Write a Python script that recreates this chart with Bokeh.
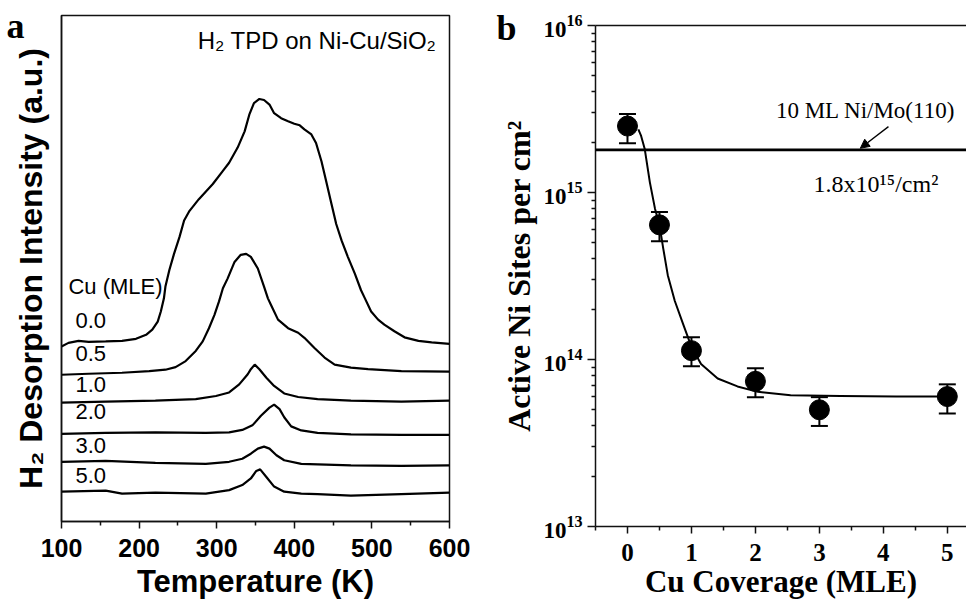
from bokeh.plotting import figure
from bokeh.layouts import row
from bokeh.models import (FixedTicker, Label, Span, Whisker, ColumnDataSource, TeeHead,
                          Arrow, NormalHead, LinearAxis, LogAxis, CustomJSTickFormatter)
from bokeh.embed import file_html
from bokeh.resources import INLINE

# ---------------- Panel a data: H2 TPD traces (offset, arbitrary units) ----------------
temp_ticks = [100, 200, 300, 400, 500, 600]
temp_minor = [150, 250, 350, 450, 550]
cu_labels = ["0.0", "0.5", "1.0", "2.0", "3.0", "5.0"]

T_00 = [100, 109, 122, 135, 157, 178, 196, 209, 217, 224, 228, 232, 234, 239, 245, 252, 258, 265,
        277, 295, 308, 316, 327, 336, 342, 348, 355, 361, 368, 374, 383, 392, 400, 407, 413, 422,
        428, 435, 441, 448, 454, 461, 469, 478, 486, 491, 499, 508, 516, 529, 542, 560, 577, 600]
I_00 = [34.6, 35.3, 35.7, 35.5, 35.6, 35.7, 36.1, 36.9, 37.9, 39.5, 41.5, 44.1, 46.5, 49.7, 52.9,
        56.2, 59.5, 61.4, 63.7, 66.7, 69.3, 70.9, 73.9, 77.1, 80.4, 82.7, 83.5, 83.3, 82.4, 80.7,
        79.7, 79.1, 78.6, 78.3, 77.5, 76.5, 74.8, 71.2, 67.3, 62.7, 58.8, 55.5, 52.3, 49.0, 45.7,
        44.1, 41.5, 39.9, 38.9, 37.6, 36.4, 35.7, 35.4, 35.1]

T_05 = [100, 135, 178, 213, 234, 247, 260, 273, 282, 290, 297, 303, 308, 314, 323, 331, 338, 344,
        353, 361, 366, 370, 379, 392, 405, 413, 426, 439, 452, 473, 495, 538, 600]
I_05 = [29.0, 29.2, 29.4, 29.7, 30.0, 30.5, 31.7, 33.7, 35.6, 38.2, 40.8, 43.5, 46.1, 48.0, 51.3,
        52.7, 52.9, 52.3, 50.0, 46.4, 44.1, 42.8, 39.9, 38.2, 37.3, 36.3, 34.3, 32.4, 31.0, 30.4,
        30.1, 29.7, 29.6]

T_10 = [100, 157, 221, 273, 299, 316, 329, 340, 344, 349, 355, 364, 374, 387, 405, 430, 473, 538, 600]
I_10 = [23.5, 23.7, 23.9, 24.2, 24.8, 25.5, 27.1, 29.1, 30.1, 31.0, 30.1, 28.4, 26.8, 25.3, 24.6,
        24.2, 23.9, 23.7, 23.9]

T_20 = [100, 157, 221, 286, 316, 333, 346, 357, 368, 374, 381, 387, 396, 409, 430, 473, 538, 600]
I_20 = [17.3, 17.5, 17.6, 17.5, 17.6, 18.1, 19.0, 20.9, 22.5, 23.1, 22.2, 20.6, 18.8, 18.0, 17.5,
        17.2, 17.1, 17.1]

T_30 = [100, 157, 221, 286, 316, 333, 344, 353, 361, 368, 377, 387, 409, 473, 538, 600]
I_30 = [11.8, 12.0, 11.6, 11.4, 11.8, 12.4, 13.4, 14.4, 14.8, 14.4, 13.1, 12.1, 11.4, 11.1, 11.0, 11.1]

T_50 = [100, 157, 178, 221, 286, 316, 333, 344, 351, 356, 364, 374, 387, 409, 430, 473, 538, 600]
I_50 = [5.9, 6.1, 5.5, 5.7, 5.5, 6.2, 7.2, 8.5, 10.0, 10.3, 8.8, 6.9, 5.9, 5.5, 5.4, 5.1, 5.4, 5.7]

# ---------------- Panel b data: active Ni sites vs Cu coverage ----------------
cu_cov = [0, 0.5, 1, 2, 3, 5]
sites = [2.5e15, 6.4e14, 1.13e14, 7.4e13, 5.0e13, 6.0e13]
sites_hi = [2.95e15, 7.65e14, 1.36e14, 8.85e13, 5.95e13, 7.1e13]
sites_lo = [1.97e15, 5.1e14, 9.1e13, 5.95e13, 4.0e13, 4.75e13]
fit_x = [0.17, 0.21, 0.27, 0.35, 0.43, 0.50, 0.56, 0.63, 0.74, 0.87, 1.00, 1.15, 1.41, 1.72,
         2.04, 2.55, 3.33, 4.20, 5.00]
fit_y = [2.39e15, 2.2e15, 1.82e15, 1.15e15, 8.0e14, 6.4e14, 4.6e14, 3.2e14, 2.24e14, 1.63e14,
         1.19e14, 9.4e13, 7.7e13, 6.9e13, 6.4e13, 6.1e13, 6.05e13, 6.0e13, 6.0e13]
ni_mo_ref = 1.8e15
cov_ticks = [0, 1, 2, 3, 4, 5]
cov_minor = [-0.5, 0.5, 1.5, 2.5, 3.5, 4.5]
site_ticks = [1e13, 1e14, 1e15, 1e16]
site_minor = [2e13, 3e13, 4e13, 5e13, 6e13, 7e13, 8e13, 9e13,
              2e14, 3e14, 4e14, 5e14, 6e14, 7e14, 8e14, 9e14,
              2e15, 3e15, 4e15, 5e15, 6e15, 7e15, 8e15, 9e15]

SANS = "Liberation Sans"
SERIF = "Liberation Serif"
AX = "#111111"


def no_frame_align(p):
    if "frame_align" in p.properties():
        p.frame_align = False


def style_axis(a):
    a.axis_line_color = AX
    a.axis_line_width = 1.5
    a.major_tick_line_color = AX
    a.major_tick_line_width = 1.5
    a.minor_tick_line_color = AX
    a.minor_tick_line_width = 1.5
    a.axis_label_text_color = "black"
    a.major_label_text_color = "black"


def panel_letter_axis(axis_cls, letter, at, standoff):
    # an outer, line-less axis whose single tick label is the panel letter
    return axis_cls(ticker=FixedTicker(ticks=[at]),
                    formatter=CustomJSTickFormatter(code="return '%s'" % letter),
                    axis_line_color=None, major_tick_out=0, major_tick_in=0,
                    minor_tick_out=0, minor_tick_in=0,
                    major_label_text_font=SERIF, major_label_text_font_style="bold",
                    major_label_text_font_size="36px", major_label_text_color="black",
                    major_label_standoff=standoff)


# ======================= Panel a =======================
p1 = figure(width=480, height=601, x_range=(100, 600), y_range=(0, 100),
            output_backend="svg", toolbar_location=None,
            min_border_left=61, min_border_right=31, min_border_top=15, min_border_bottom=76)
no_frame_align(p1)
p1.xgrid.visible = False
p1.ygrid.visible = False
p1.outline_line_color = AX
p1.outline_line_width = 1.5
p1.outline_line_alpha = 1.0
p1.background_fill_color = "white"
p1.border_fill_color = "white"

xa = p1.xaxis[0]
style_axis(xa)
xa.ticker = FixedTicker(ticks=temp_ticks, minor_ticks=temp_minor)
xa.axis_label = "Temperature (K)"
xa.axis_label_text_font = SANS
xa.axis_label_text_font_style = "bold"
xa.axis_label_text_font_size = "31px"
xa.axis_label_standoff = 4
xa.major_label_text_font = SANS
xa.major_label_text_font_style = "bold"
xa.major_label_text_font_size = "25px"
xa.major_label_standoff = 10
xa.major_tick_out = 7
xa.major_tick_in = 0
xa.minor_tick_out = 4
xa.minor_tick_in = 0

ya = p1.yaxis[0]
style_axis(ya)
ya.ticker = FixedTicker(ticks=[])
ya.major_tick_out = 0
ya.major_tick_in = 0
ya.minor_tick_out = 0
ya.minor_tick_in = 0
ya.axis_label = "H\u2082 Desorption Intensity (a.u.)"
ya.axis_label_text_font = SANS
ya.axis_label_text_font_style = "bold"
ya.axis_label_text_font_size = "32px"
ya.axis_label_standoff = 13

p1.add_layout(panel_letter_axis(LinearAxis, "a", 98.0, -15), "left")

for T, I in [(T_00, I_00), (T_05, I_05), (T_10, I_10), (T_20, I_20), (T_30, I_30), (T_50, I_50)]:
    p1.line(T, I, line_color="black", line_width=2.2)

p1.add_layout(Label(x=583, y=95.0, text="H\u2082 TPD on Ni-Cu/SiO\u2082", text_font=SANS,
                    text_font_size="24px", text_align="right", text_baseline="middle",
                    text_color="black"))
p1.add_layout(Label(x=109, y=46.5, text="Cu (MLE)", text_font=SANS, text_font_size="22px",
                    text_align="left", text_baseline="middle", text_color="black"))
label_pos = [39.7, 33.2, 27.0, 21.8, 15.0, 9.0]
for lab, ly in zip(cu_labels, label_pos):
    p1.add_layout(Label(x=118, y=ly, text=lab, text_font=SANS, text_font_size="22px",
                        text_align="left", text_baseline="middle", text_color="black"))

# ======================= Panel b =======================
p2 = figure(width=486, height=601, x_range=(-0.5, 5.3), y_range=(1e13, 1e16),
            y_axis_type="log", output_backend="svg", toolbar_location=None,
            min_border_left=115, min_border_right=0, min_border_top=25, min_border_bottom=70)
no_frame_align(p2)
p2.xgrid.visible = False
p2.ygrid.visible = False
p2.outline_line_color = None
p2.background_fill_color = "white"
p2.border_fill_color = "white"

bx = p2.xaxis[0]
style_axis(bx)
bx.ticker = FixedTicker(ticks=cov_ticks, minor_ticks=cov_minor)
bx.axis_label = "Cu Coverage (MLE)"
bx.axis_label_text_font = SERIF
bx.axis_label_text_font_style = "bold"
bx.axis_label_text_font_size = "31px"
bx.axis_label_standoff = 0
bx.major_label_text_font = SERIF
bx.major_label_text_font_style = "bold"
bx.major_label_text_font_size = "25px"
bx.major_label_standoff = 10
bx.major_tick_out = 7
bx.major_tick_in = 0
bx.minor_tick_out = 4
bx.minor_tick_in = 0

by = p2.yaxis[0]
style_axis(by)
by.ticker = FixedTicker(ticks=site_ticks, minor_ticks=site_minor)
by.axis_label = "Active Ni Sites per cm\u00b2"
by.axis_label_text_font = SERIF
by.axis_label_text_font_style = "bold"
by.axis_label_text_font_size = "32px"
by.axis_label_standoff = 3
by.major_label_text_font = SERIF
by.major_label_text_font_style = "bold"
by.major_label_text_font_size = "23px"
by.major_label_standoff = 5
by.major_tick_out = 8
by.major_tick_in = 0
by.minor_tick_out = 4
by.minor_tick_in = 0

p2.add_layout(panel_letter_axis(LogAxis, "b", 9.6e15, -18), "left")

top = LinearAxis(ticker=FixedTicker(ticks=[]), major_tick_out=0, major_tick_in=0,
                 minor_tick_out=0, minor_tick_in=0, axis_line_color=AX, axis_line_width=1.5)
p2.add_layout(top, "above")

p2.add_layout(Span(location=ni_mo_ref, dimension="width", line_color="black", line_width=2.6))

p2.line(fit_x, fit_y, line_color="black", line_width=2)

err_src = ColumnDataSource(data=dict(x=cu_cov, upper=sites_hi, lower=sites_lo))
p2.add_layout(Whisker(source=err_src, base="x", upper="upper", lower="lower",
                      line_color="black", line_width=2,
                      upper_head=TeeHead(size=17, line_color="black", line_width=2),
                      lower_head=TeeHead(size=17, line_color="black", line_width=2)))
p2.scatter(cu_cov, sites, size=20, marker="circle", fill_color="black", line_color="black")

p2.add_layout(Label(x=2.32, y=3.1e15, text="10 ML Ni/Mo(110)", text_font=SERIF,
                    text_font_size="23px", text_align="left", text_baseline="alphabetic",
                    text_color="black"))
p2.add_layout(Label(x=2.91, y=1.13e15, text="1.8x10\u00b9\u2075/cm\u00b2", text_font=SERIF,
                    text_font_size="24px", text_align="left", text_baseline="alphabetic",
                    text_color="black"))
p2.add_layout(Arrow(end=NormalHead(size=9, fill_color="black", line_color="black"),
                    x_start=4.08, y_start=2.48e15, x_end=3.64, y_end=1.84e15,
                    line_color="black", line_width=1.3))

layout = row(p1, p2)
open("out.html", "w").write(file_html(layout, INLINE))
